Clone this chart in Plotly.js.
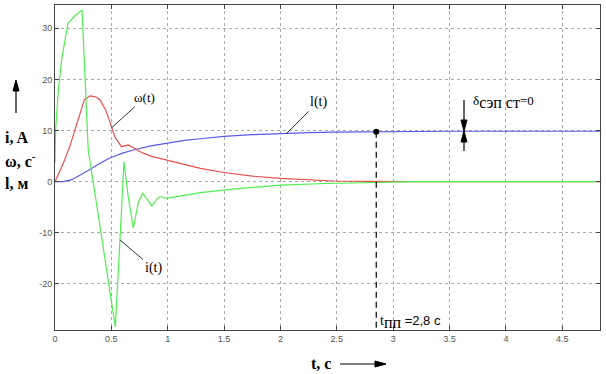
<!DOCTYPE html>
<html><head><meta charset="utf-8">
<script src="https://cdn.plot.ly/plotly-3.0.1.min.js"></script>
<style>html,body{margin:0;padding:0;background:#fff}#chart{width:606px;height:374px}</style>
</head><body><div id="chart"></div>
<script>
// i(t), A
const tI = [0, 0.005, 0.03, 0.06, 0.115, 0.18, 0.24, 0.265, 0.295, 0.415, 0.535, 0.575, 0.612, 0.65, 0.695, 0.74, 0.778, 0.82, 0.858, 0.9, 0.93, 0.99, 1.1, 1.29, 1.6, 2.0, 2.4, 2.77, 3.2, 4.835];
const iVals = [3.7, 10, 18, 24, 31, 32.5, 33.6, 20, 6.2, -11, -28.4, -12, 3.9, -3, -9.1, -4, -2.3, -3.5, -4.75, -3.5, -2.9, -3.25, -2.8, -2.15, -1.4, -0.65, -0.35, -0.2, 0, 0];
// omega(t), 1/s
const tW = [0, 0.044, 0.074, 0.133, 0.18, 0.22, 0.26, 0.31, 0.36, 0.4, 0.45, 0.49, 0.53, 0.59, 0.65, 0.7, 0.75, 0.85, 0.99, 1.15, 1.29, 1.5, 1.75, 2.0, 2.25, 2.47, 2.77, 3.2, 4.835];
const wVals = [0, 2, 3.6, 7, 10.5, 13.5, 16, 16.8, 16.6, 16, 14, 11.5, 8.8, 6.85, 7.2, 6.6, 5.9, 5.0, 4.2, 3.3, 2.6, 1.8, 1.1, 0.66, 0.35, 0.14, 0.05, 0, 0];
// l(t), m
const tL = [0, 0.07, 0.15, 0.2, 0.31, 0.4, 0.49, 0.6, 0.695, 0.85, 0.99, 1.15, 1.29, 1.5, 1.75, 2.0, 2.25, 2.47, 2.85, 3.1, 3.5, 4.835];
const lVals = [0, 0, 0.4, 1.0, 2.4, 3.6, 4.7, 5.6, 6.2, 7.0, 7.55, 8.1, 8.4, 8.85, 9.2, 9.45, 9.6, 9.7, 9.78, 9.85, 9.87, 9.87];
// settling time marker
const tPP = 2.85, lPP = 9.78;
const xTicks = [0, 0.5, 1, 1.5, 2, 2.5, 3, 3.5, 4, 4.5];
const xTickText = ['0', '0.5', '1', '1.5', '2', '2.5', '3', '3.5', '4', '4.5'];
const yTicks = [-20, -10, 0, 10, 20, 30];
const yTickText = ['-20', '-10', '0', '10', '20', '30'];
const yMin = -29.0, yMax = 34.56, xMax = 4.835;

const traces = [
  {x: tL, y: lVals, mode: 'lines', line: {color: '#5a5ae6', width: 1.2}, hoverinfo: 'skip'},
  {x: tW, y: wVals, mode: 'lines', line: {color: '#e85050', width: 1.2}, hoverinfo: 'skip'},
  {x: tI, y: iVals, mode: 'lines', line: {color: '#50ee50', width: 1.2}, hoverinfo: 'skip'},
  {x: [tPP, tPP], y: [lPP, yMin], mode: 'lines', line: {color: '#000', width: 1.2, dash: '6px,4px'}, hoverinfo: 'skip'},
  {x: [tPP], y: [lPP], mode: 'markers', marker: {color: '#000', size: 6}, hoverinfo: 'skip'}
];

const serif = 'Liberation Serif, Times New Roman, serif';
const sans = 'Liberation Sans, Arial, sans-serif';
function px(x){return (x-55)/545;}
function py(y){return (330-y)/325;}
function P(x, y){return px(x).toFixed(5) + ',' + py(y).toFixed(5);}
function lineShape(x0, y0, x1, y1){
  return {type: 'line', xref: 'paper', yref: 'paper', x0: px(x0), y0: py(y0), x1: px(x1), y1: py(y1), line: {color: '#000', width: 1.2}};
}
function head(pts){
  return {type: 'path', xref: 'paper', yref: 'paper', path: 'M' + P(pts[0][0], pts[0][1]) + ' L' + P(pts[1][0], pts[1][1]) + ' L' + P(pts[2][0], pts[2][1]) + ' Z',
    fillcolor: '#000', line: {color: '#000', width: 1}};
}

const layout = {
  width: 606, height: 374,
  margin: {l: 55, r: 6, t: 5, b: 44},
  paper_bgcolor: '#fff', plot_bgcolor: '#fff',
  showlegend: false,
  xaxis: {range: [0, xMax], tickvals: xTicks, ticktext: xTickText, ticks: 'inside', ticklen: 4, tickcolor: '#444',
    showline: true, linecolor: '#444', linewidth: 1, mirror: 'ticks', showgrid: true, gridcolor: '#aaa', griddash: 'dot', gridwidth: 1,
    zeroline: false, tickfont: {family: sans, size: 9, color: '#555'}, fixedrange: true},
  yaxis: {range: [yMin, yMax], tickvals: yTicks, ticktext: yTickText, ticks: 'inside', ticklen: 4, tickcolor: '#444',
    showline: true, linecolor: '#444', linewidth: 1, mirror: 'ticks', showgrid: true, gridcolor: '#aaa', griddash: 'dot', gridwidth: 1,
    zeroline: false, tickfont: {family: sans, size: 9, color: '#555'}, fixedrange: true},
  shapes: [
    // left axis arrow (up)
    lineShape(16, 113, 16, 88), head([[16, 80], [13, 91], [19, 91]]),
    // time arrow (right)
    lineShape(340, 364, 378, 364), head([[386, 364], [375, 361], [375, 367]]),
    // delta arrows
    lineShape(464, 100, 464, 122), head([[464, 131], [461, 120], [467, 120]]),
    lineShape(464, 151, 464, 140), head([[464, 131], [461, 142], [467, 142]])
  ],
  annotations: [
    {x: 0.503, y: 10.56, xref: 'x', yref: 'y', text: 'ω(t)', showarrow: true, arrowhead: 0, arrowwidth: 0.8, arrowcolor: '#000', ax: 33, ay: -30, font: {family: serif, size: 13, color: '#000'}},
    {x: 2.05, y: 9.33, xref: 'x', yref: 'y', text: 'l(t)', showarrow: true, arrowhead: 0, arrowwidth: 0.8, arrowcolor: '#000', ax: 32, ay: -32, font: {family: serif, size: 14, color: '#000'}},
    {x: 0.577, y: -11.4, xref: 'x', yref: 'y', text: 'i(t)', showarrow: true, arrowhead: 0, arrowwidth: 0.8, arrowcolor: '#000', ax: 33, ay: 28, font: {family: serif, size: 14, color: '#000'}},
    {x: px(471), y: py(102), xref: 'paper', yref: 'paper', xanchor: 'left', yanchor: 'middle', text: 'δ<sub><span style="font-family:Liberation Serif;font-size:16px">сэп ст</span></sub>=0', showarrow: false, font: {family: serif, size: 13, color: '#000'}},
    {x: px(378), y: py(322), xref: 'paper', yref: 'paper', xanchor: 'left', yanchor: 'middle', text: '<span style="font-family:Liberation Serif;font-size:14px">t<sub><span style="font-family:Liberation Serif;font-size:16px">пп</span></sub></span> =2,8 c', showarrow: false, font: {family: sans, size: 13, color: '#000'}},
    {x: px(3), y: py(138), xref: 'paper', yref: 'paper', xanchor: 'left', yanchor: 'middle', text: '<b>i, A</b>', showarrow: false, font: {family: serif, size: 16, color: '#000'}},
    {x: px(3), y: py(160), xref: 'paper', yref: 'paper', xanchor: 'left', yanchor: 'middle', text: '<b>ω, с<sup>-</sup></b>', showarrow: false, font: {family: serif, size: 16, color: '#000'}},
    {x: px(3), y: py(183), xref: 'paper', yref: 'paper', xanchor: 'left', yanchor: 'middle', text: '<b>l, м</b>', showarrow: false, font: {family: serif, size: 16, color: '#000'}},
    {x: px(321), y: py(363), xref: 'paper', yref: 'paper', xanchor: 'center', yanchor: 'middle', text: '<b>t, c</b>', showarrow: false, font: {family: serif, size: 16, color: '#000'}}
  ]
};
Plotly.newPlot('chart', traces, layout, {displayModeBar: false, staticPlot: true});
</script></body></html>
